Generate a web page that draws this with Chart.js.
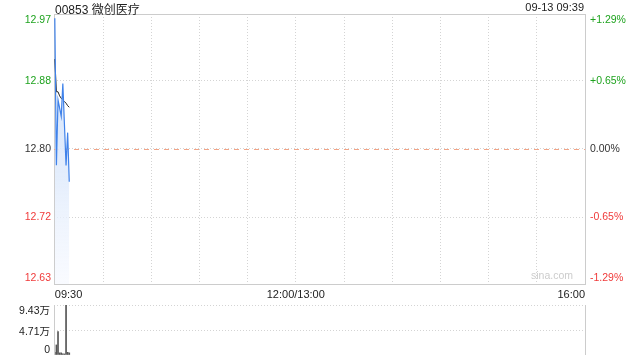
<!DOCTYPE html>
<html>
<head>
<meta charset="utf-8">
<script src="https://cdn.jsdelivr.net/npm/chart.js@4.4.0/dist/chart.umd.min.js"></script>
<style>
body { margin: 0; background: #fff; }
#wrap { position: relative; width: 640px; height: 360px; overflow: hidden; }
#wrap canvas { position: absolute; left: 0; }
#title { position: absolute; left: 55px; top: 0px; font: 12px "Liberation Sans", "Noto Sans CJK SC", sans-serif; color: #222; }
#stamp { position: absolute; right: 56px; top: 1px; font: 11px "Liberation Sans", sans-serif; color: #222; }
</style>
</head>
<body>
<div id="wrap">
  <canvas id="price" width="640" height="300" style="top:0"></canvas>
  <canvas id="vol" width="640" height="60" style="top:300px"></canvas>
  <div id="title">00853 微创医疗</div>
  <div id="stamp">09-13 09:39</div>
</div>
<script>
console.log('chart start');

// minutes since 09:30
var minutes = [0, 1, 2, 3, 4, 5, 6, 7, 8, 9];
var prices  = [12.96, 12.78, 12.86, 12.85, 12.84, 12.88, 12.83, 12.78, 12.82, 12.76];
var avgLine = [12.91, 12.87, 12.87, 12.865, 12.862, 12.86, 12.858, 12.856, 12.853, 12.851];
var volumes = [0.5, 1.9, 4.4, 0.4, 0.4, 0.2, 0.2, 9.43, 0.5, 0.4]; // 万

var prevClose = 12.80;
var pctTicks   = [1.29, 0.65, 0, -0.65, -1.29];
var pctLabels  = ['+1.29%', '+0.65%', '0.00%', '-0.65%', '-1.29%'];
var priceLabels = ['12.97', '12.88', '12.80', '12.72', '12.63'];

var timeTicks  = [0, 150, 330];
var timeLabels = ['09:30', '12:00/13:00', '16:00'];
var totalMinutes = 330;

var volTicks  = [0, 4.71, 9.43];
var volLabels = ['0', '4.71万', '9.43万'];

var UP = '#1fa31f', DOWN = '#f03a3a', FLAT = '#333';
var FONT = '"Liberation Sans", "Noto Sans CJK SC", sans-serif';

function toPrice(p) { return prevClose * (1 + p / 100); }

function pts(ys) {
  return minutes.map(function (m, i) { return { x: m, y: ys[i] }; });
}

var gridTicks = [];
for (var g = 0; g <= totalMinutes; g += 30) gridTicks.push(g);

var frame = function (chart) {
  var ctx = chart.ctx, a = chart.chartArea;
  ctx.save();
  ctx.strokeStyle = '#ccc';
  ctx.strokeRect(a.left + 0.5, a.top + 0.5, a.right - a.left, a.bottom - a.top);
  ctx.restore();
};

var priceLabelsPlugin = {
  id: 'priceLabels',
  beforeDatasetsDraw: function (chart) {
    var ctx = chart.ctx, a = chart.chartArea, y = chart.scales.y;
    frame(chart);
    ctx.save();
    // prev close line
    ctx.strokeStyle = '#f2a486';
    ctx.setLineDash([5, 5]);
    var py = Math.round(y.getPixelForValue(prevClose)) + 0.5;
    ctx.beginPath(); ctx.moveTo(a.left, py); ctx.lineTo(a.right, py); ctx.stroke();
    ctx.setLineDash([]);
    // watermark
    ctx.fillStyle = '#ccc';
    ctx.font = '10.5px ' + FONT;
    ctx.textAlign = 'right';
    ctx.fillText('sina.com', a.right - 12, a.bottom - 5);
    ctx.restore();
  },
  afterDraw: function (chart) {
    var ctx = chart.ctx, a = chart.chartArea, y = chart.scales.y;
    ctx.save();
    ctx.font = '10.5px ' + FONT;
    ctx.textBaseline = 'middle';
    pctTicks.forEach(function (p, i) {
      var yy = y.getPixelForValue(toPrice(p));
      if (i === 0) yy += 6;
      if (i === pctTicks.length - 1) yy -= 6;
      ctx.fillStyle = p > 0 ? UP : (p < 0 ? DOWN : FLAT);
      ctx.textAlign = 'right';
      ctx.fillText(priceLabels[i], a.left - 3, yy);
      ctx.textAlign = 'left';
      ctx.fillText(pctLabels[i], a.right + 5, yy);
    });
    ctx.restore();
  }
};

var priceChart = new Chart(document.getElementById('price'), {
  type: 'line',
  data: {
    datasets: [
      {
        label: 'price',
        data: pts(prices),
        borderColor: '#3f82ea',
        borderWidth: 1.2,
        pointRadius: 0,
        tension: 0,
        fill: 'start',
        backgroundColor: function (c) {
          var a = c.chart.chartArea;
          if (!a) return 'rgba(220,232,252,0.7)';
          var grad = c.chart.ctx.createLinearGradient(0, a.top, 0, a.bottom);
          grad.addColorStop(0, 'rgba(205,222,250,1)');
          grad.addColorStop(0.6, 'rgba(225,236,252,0.9)');
          grad.addColorStop(1, 'rgba(245,248,255,0.6)');
          return grad;
        }
      },
      {
        label: 'avg',
        data: pts(avgLine),
        borderColor: '#222',
        borderWidth: 1,
        pointRadius: 0,
        tension: 0,
        fill: false
      }
    ]
  },
  options: {
    responsive: false,
    animation: false,
    layout: { padding: { top: 14, right: 0, left: 0, bottom: 0 } },
    plugins: { legend: { display: false }, tooltip: { enabled: false } },
    scales: {
      x: {
        type: 'linear',
        min: -0.5,
        max: totalMinutes,
        afterBuildTicks: function (s) { s.ticks = gridTicks.map(function (v) { return { value: v }; }); },
        afterFit: function (s) { s.height = 16; },
        grid: {
          drawTicks: false,
          color: function (c) {
            var v = c.tick && c.tick.value;
            return (v === 0 || v === totalMinutes) ? 'rgba(0,0,0,0)' : '#d4d4d4';
          }
        },
        border: { display: false, dash: [1, 2] },
        ticks: {
          autoSkip: false,
          maxRotation: 0,
          align: 'inner',
          padding: 4,
          color: '#222',
          font: { size: 11, family: FONT },
          callback: function (v) {
            var k = timeTicks.indexOf(v);
            return k >= 0 ? timeLabels[k] : '';
          }
        }
      },
      y: {
        position: 'left',
        min: toPrice(-1.29),
        max: toPrice(1.29),
        afterBuildTicks: function (s) { s.ticks = pctTicks.map(function (p) { return { value: toPrice(p) }; }); },
        afterFit: function (s) { s.width = 54; },
        grid: { color: '#d4d4d4', drawTicks: false },
        border: { display: false, dash: [1, 2] },
        ticks: { display: false }
      },
      y2: {
        position: 'right',
        min: toPrice(-1.29),
        max: toPrice(1.29),
        afterFit: function (s) { s.width = 55; },
        grid: { display: false },
        border: { display: false },
        ticks: { display: false }
      }
    }
  },
  plugins: [priceLabelsPlugin]
});

var volLabelsPlugin = {
  id: 'volLabels',
  afterDraw: function (chart) {
    var ctx = chart.ctx, a = chart.chartArea, y = chart.scales.y;
    ctx.save();
    ctx.strokeStyle = '#ccc';
    ctx.beginPath();
    ctx.moveTo(a.left + 0.5, a.top); ctx.lineTo(a.left + 0.5, a.bottom);
    ctx.moveTo(a.right + 0.5, a.top); ctx.lineTo(a.right + 0.5, a.bottom);
    ctx.stroke();
    ctx.font = '10.5px ' + FONT;
    ctx.fillStyle = '#222';
    ctx.textAlign = 'right';
    ctx.textBaseline = 'middle';
    var offs = [-5, 2, 6];
    volTicks.forEach(function (v, i) {
      ctx.fillText(volLabels[i], a.left - 4, y.getPixelForValue(v) + offs[i]);
    });
    ctx.restore();
  }
};

var volChart = new Chart(document.getElementById('vol'), {
  type: 'bar',
  data: {
    datasets: [{
      label: 'volume',
      data: pts(volumes),
      backgroundColor: '#555',
      barThickness: 1,
      borderWidth: 0
    }]
  },
  options: {
    responsive: false,
    animation: false,
    layout: { padding: { top: 5, right: 55, left: 0, bottom: 5 } },
    plugins: { legend: { display: false }, tooltip: { enabled: false } },
    scales: {
      x: {
        type: 'linear',
        min: -0.5,
        max: totalMinutes,
        offset: false,
        display: false
      },
      y: {
        min: 0,
        max: 9.43,
        afterBuildTicks: function (s) { s.ticks = volTicks.map(function (v) { return { value: v }; }); },
        afterFit: function (s) { s.width = 54; },
        grid: {
          drawTicks: false,
          color: function (c) { return c.tick && c.tick.value === 0 ? 'rgba(0,0,0,0)' : '#d4d4d4'; }
        },
        border: { display: false, dash: [1, 2] },
        ticks: { display: false }
      }
    }
  },
  plugins: [volLabelsPlugin]
});
</script>
</body>
</html>
